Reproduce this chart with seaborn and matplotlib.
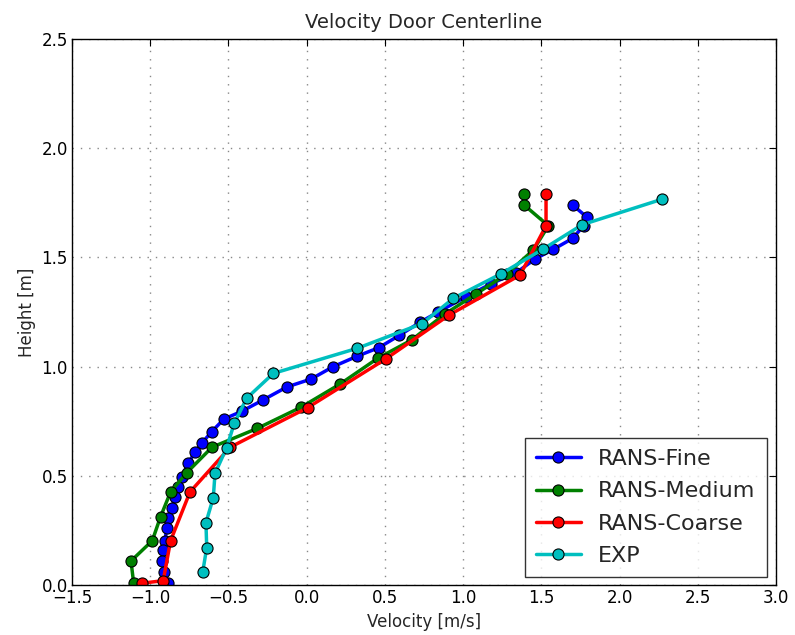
import matplotlib
matplotlib.use("Agg")
import matplotlib.pyplot as plt
import seaborn as sns
import pandas as pd

# ---- data ----
fine_v = [1.70, 1.79, 1.77, 1.70, 1.577, 1.46, 1.34, 1.18, 1.02, 0.84, 0.725, 0.592, 0.462, 0.324,
          0.17, 0.028, -0.126, -0.28, -0.416, -0.529, -0.607, -0.671, -0.714, -0.757, -0.797,
          -0.82, -0.84, -0.863, -0.885, -0.895, -0.906, -0.917, -0.925, -0.912, -0.885]
fine_h = [1.74, 1.685, 1.645, 1.587, 1.537, 1.493, 1.43, 1.38, 1.32, 1.25, 1.203, 1.143, 1.087, 1.048,
          1.0, 0.943, 0.907, 0.847, 0.795, 0.76, 0.702, 0.649, 0.609, 0.557, 0.496,
          0.45, 0.404, 0.351, 0.305, 0.26, 0.201, 0.16, 0.111, 0.061, 0.008]

medium_v = [1.391, 1.391, 1.545, 1.449, 1.279, 1.085, 0.882, 0.671, 0.454, 0.213, -0.036, -0.316,
            -0.605, -0.767, -0.87, -0.934, -0.987, -1.123, -1.106]
medium_h = [1.79, 1.739, 1.645, 1.534, 1.424, 1.334, 1.24, 1.122, 1.038, 0.92, 0.814, 0.717,
            0.631, 0.514, 0.426, 0.313, 0.203, 0.11, 0.008]

coarse_v = [1.53, 1.53, 1.364, 0.91, 0.505, 0.006, -0.489, -0.746, -0.87, -0.917, -1.055]
coarse_h = [1.79, 1.645, 1.419, 1.236, 1.035, 0.812, 0.631, 0.426, 0.203, 0.02, 0.008]

exp_v = [2.27, 1.762, 1.509, 1.245, 0.938, 0.738, 0.324, -0.213, -0.384, -0.463, -0.512,
         -0.586, -0.597, -0.644, -0.639, -0.665]
exp_h = [1.766, 1.65, 1.537, 1.426, 1.313, 1.197, 1.084, 0.969, 0.855, 0.74, 0.628,
         0.511, 0.40, 0.285, 0.171, 0.058]

labels = ["RANS-Fine", "RANS-Medium", "RANS-Coarse", "EXP"]
colors = ["#0000ff", "#008000", "#ff0000", "#00bfbf"]

series = [(fine_v, fine_h), (medium_v, medium_h), (coarse_v, coarse_h), (exp_v, exp_h)]

frames = []
for lab, (v, h) in zip(labels, series):
    frames.append(pd.DataFrame({"Velocity": v, "Height": h, "Series": lab, "order": range(len(v))}))
df = pd.concat(frames, ignore_index=True)

sns.set_style("white")
plt.rcParams["font.family"] = ["DejaVu Sans"]

fig = plt.figure(figsize=(7.95, 6.35), dpi=100)
ax = fig.add_axes([0.0906, 0.0787, 0.8855, 0.8599])

for lab, col in zip(labels, colors):
    sub = df[df["Series"] == lab]
    sns.lineplot(data=sub, x="Velocity", y="Height", sort=False, estimator=None,
                 color=col, linewidth=2.5, marker="o", markersize=8,
                 markeredgecolor="black", markeredgewidth=0.8, label=lab, ax=ax)

ax.set_xlim(-1.5, 3.0)
ax.set_ylim(0.0, 2.5)
ax.set_xticks([-1.5, -1.0, -0.5, 0.0, 0.5, 1.0, 1.5, 2.0, 2.5, 3.0])
ax.set_yticks([0.0, 0.5, 1.0, 1.5, 2.0, 2.5])
ax.set_xticklabels(["\u22121.5", "\u22121.0", "\u22120.5", "0.0", "0.5", "1.0", "1.5", "2.0", "2.5", "3.0"])
ax.tick_params(direction="in", length=5, width=0.8, top=True, right=True,
               labelsize=12, colors="black", pad=3)
ax.grid(True, linestyle=(0, (1, 5)), color="#888888", linewidth=1.0)
ax.set_axisbelow(True)
for s in ax.spines.values():
    s.set_color("black")
    s.set_linewidth(1.0)
ax.set_xlabel("Velocity [m/s]", fontsize=12)
ax.set_ylabel("Height [m]", fontsize=12)
ax.set_title("Velocity Door Centerline", fontsize=14, pad=8)

leg = ax.legend(loc="lower right", fontsize=16, frameon=True, fancybox=False,
                handlelength=2.0, borderpad=0.5, labelspacing=0.55, borderaxespad=0,
                bbox_to_anchor=(0.987, 0.0147))
leg.get_frame().set_edgecolor("black")
leg.get_frame().set_linewidth(1.0)

fig.savefig("out.png", dpi=100)
